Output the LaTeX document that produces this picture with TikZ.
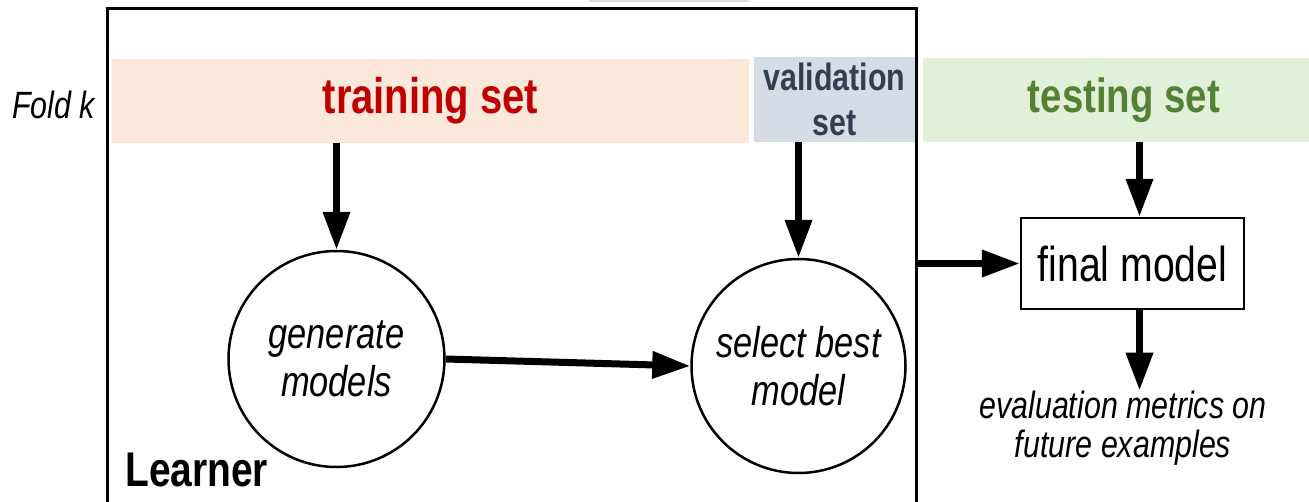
\documentclass[tikz,border=0pt]{standalone}
\usepackage{fontspec}
\setmainfont{Liberation Sans}[FakeStretch=0.8]
\usetikzlibrary{arrows.meta}
\definecolor{trainfill}{HTML}{FDE9DB}
\definecolor{trainred}{HTML}{C00000}
\definecolor{validfill}{HTML}{D6DCE5}
\definecolor{validtext}{HTML}{333F50}
\definecolor{testfill}{HTML}{E2F0D9}
\definecolor{testgreen}{HTML}{548235}
\begin{document}
\begin{tikzpicture}[x=1pt,y=-1pt,>={Triangle[length=38pt,width=26pt]},
  flow/.style={->,line width=7pt},
  setbox/.style={inner sep=0pt,font=\bfseries},
  stepcirc/.style={circle,draw,line width=2.5pt,minimum size=216pt,inner sep=0pt,align=center,font=\itshape\fontsize{43}{48}\selectfont}]
\useasboundingbox (0,0) rectangle (1309,501);
\fill[validfill] (589,0) rectangle (749,1.5);
% learner frame, open at the bottom
\coordinate (lrnNW) at (107,8);
\coordinate (lrnNE) at (916,8);
\draw[line width=3pt] (107,520) -- (lrnNW) -- (lrnNE) -- (916,520);
% data sets
\node[setbox,fill=trainfill,minimum width=637pt,minimum height=84pt,text=trainred,font=\bfseries\fontsize{50}{55}\selectfont] (train) at (430.5,101) {training set};
\node[setbox,fill=validfill,minimum width=161pt,minimum height=85pt,text=validtext,align=center,font=\bfseries\fontsize{38}{45}\selectfont] (valid) at (834.5,99.5) {validation\\set};
\node[setbox,fill=testfill,minimum width=386pt,minimum height=84pt,text=testgreen,font=\bfseries\fontsize{48}{53}\selectfont] (test) at (1116,100) {\hspace*{16pt}testing set};
\node[font=\itshape\fontsize{38}{42}\selectfont] (fold) at (53.5,105) {Fold k};
% steps
\node[stepcirc,minimum size=216pt] (gen) at (336.5,359) {generate\\models};
\node[stepcirc,minimum size=214pt] (sel) at (798.5,366) {select best\\model};
\node[draw,line width=2.5pt,minimum width=223pt,minimum height=91pt,inner sep=0pt,font=\fontsize{49}{54}\selectfont] (fin) at (1132.5,263.5) {final model};
\node[inner sep=0pt,align=center,font=\itshape\fontsize{38}{39}\selectfont] (eval) at (1123,428) {evaluation metrics on\\future examples};
\node[anchor=base west,inner sep=0pt,font=\bfseries\fontsize{48.7}{52}\selectfont] (lrn) at (125,486) {Learner};
% connectors
\draw[flow] (gen.north |- train.south) -- (gen.north);
\draw[flow] (sel.north |- valid.south) -- (sel.north);
\draw[flow] ([xshift=7pt]fin.north |- test.south) -- ([xshift=7pt]fin.north);
\draw[flow] (gen.east) -- (sel.west);
\draw[flow] (lrnNE |- fin.west) -- (fin.west);
\draw[flow] ([xshift=7pt]fin.south) -- ([xshift=7pt]fin.south |- eval.north);
\end{tikzpicture}
\end{document}
